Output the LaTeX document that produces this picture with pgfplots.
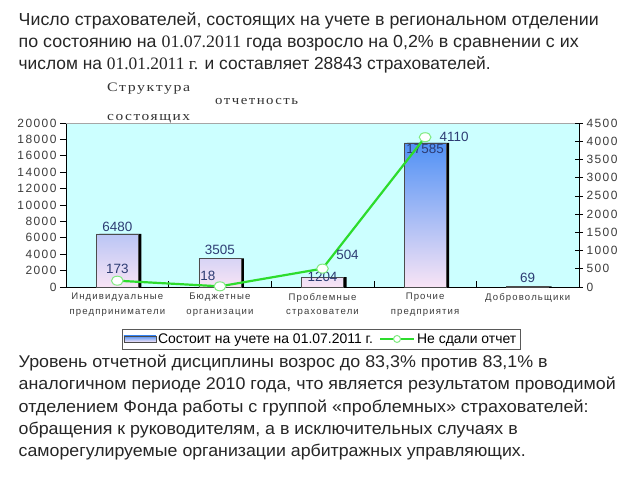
\documentclass[border=0pt]{standalone}
\usepackage{pgfplots}
\pgfplotsset{compat=1.18}
\usepackage{graphicx}
\usepackage{fontspec}
\setmainfont{Liberation Sans}
\newfontfamily\serif{Liberation Serif}
\newfontfamily\spaced[LetterSpace=12]{Liberation Sans}
\newfontfamily\serifspaced[LetterSpace=10]{Liberation Serif}
\definecolor{bgc}{RGB}{204,255,255}
\definecolor{lgreen}{RGB}{45,220,45}
\definecolor{bartop}{RGB}{80,145,245}
\definecolor{barbot}{RGB}{248,228,245}
\definecolor{lab}{RGB}{45,60,115}
\definecolor{tickc}{RGB}{60,60,60}
\newcommand\fit[2]{\resizebox{#1bp}{\height}{#2}}
\pgfplotsset{boxlegend/.style={legend image code/.code={\draw[##1] (0bp,-3bp) rectangle (32bp,3bp);}},
  linelegend/.style={legend image code/.code={\draw[##1,mark repeat=2,mark phase=2] plot coordinates {(0bp,0bp)(17bp,0bp)(34bp,0bp)};}}}
\begin{document}
\begin{tikzpicture}[x=1bp,y=1bp]
\path[use as bounding box, fill=white] (0,0) rectangle (640,480);
\begin{scope}[every node/.style={anchor=base west, inner sep=0, font=\fontsize{17.5}{22}\selectfont, text=black!85}]
\node at (18.5,454) {\fit{580}{Число страхователей, состоящих на учете в региональном отделении}};
\node at (18.5,432) {\fit{560}{по состоянию на {\serif 01.07.2011} года возросло на 0,2\% в сравнении с их}};
\node at (18.5,410) {\fit{472}{числом на {\serif 01.01.2011 г.} и составляет 28843 страхователей.}};
\end{scope}
\begin{scope}[every node/.style={anchor=base west, inner sep=0, font=\fontsize{17}{22}\selectfont, text=black!85}]
\node at (18.5,112) {\fit{529}{Уровень отчетной дисциплины возрос до 83,3\% против 83,1\% в}};
\node at (18.5,90) {\fit{597}{аналогичном периоде 2010 года, что является результатом проводимой}};
\node at (18.5,67) {\fit{570}{отделением Фонда работы с группой «проблемных» страхователей:}};
\node at (18.5,45) {\fit{499}{обращения к руководителям, а в исключительных случаях в}};
\node at (18.5,23) {\fit{507}{саморегулируемые организации арбитражных управляющих.}};
\end{scope}
\begin{scope}[every node/.style={anchor=base west, inner sep=0, font=\serifspaced\fontsize{13}{15}\selectfont, text=black!80}]
\node at (107,388) {\fit{83}{Структура}};
\node at (215,375) {\fit{83}{отчетность}};
\node at (107,359) {\fit{83}{состоящих}};
\end{scope}
\begin{axis}[at={(66bp,193bp)}, anchor=south west, scale only axis, width=513bp, height=164bp,
  xmin=-0.5, xmax=4.5, ymin=0, ymax=20000,
  ytick={0,2000,...,20000}, scaled y ticks=false,
  /pgf/number format/1000 sep={}, /pgf/number format/assume math mode=true,
  xtick={0,1,2,3,4},
  xticklabels={Индивидуальные\\предприниматели, Бюджетные\\организации, Проблемные\\страхователи, Прочие\\предприятия, Добровольщики},
  xticklabel style={font=\spaced\fontsize{9.6}{15}\selectfont, align=center, text=tickc, anchor=north, yshift=-2.5bp},
  yticklabel style={font=\spaced\fontsize{12}{14}\selectfont, text=tickc},
  minor xtick={0.5,1.5,2.5,3.5},
  xtick style={draw=none},
  minor x tick style={draw=black, line width=0.6bp},
  minor tick length=6bp,
  ytick style={draw=black, line width=0.6bp},
  major tick length=6bp,
  axis y line*=left, axis x line*=bottom,
  y axis line style={black, line width=0.8bp, -},
  x axis line style={black, line width=0.8bp, -},
  ytick align=outside,
  axis background/.style={fill=bgc},
  clip=false,
  legend style={at={(0.109,-0.256)}, anchor=north west, legend columns=2, draw=gray!70!black, fill=white,
    font=\fontsize{14}{16}\selectfont, inner xsep=1.5bp, inner ysep=2.2bp, /tikz/every even column/.append style={column sep=4bp}},
  legend cell align=left,
]
\draw[gray!70, line width=0.8bp] (rel axis cs:0,1) -- (rel axis cs:1,1);
\addplot[ybar, bar width=42bp, bar shift=3bp, fill=black, draw=none, forget plot] coordinates {(0,6480)(1,3505)(2,1204)(3,17585)(4,69)};
\addplot[ybar, bar width=42bp, bar shift=0bp, draw=black!70, line width=0.5bp, top color=bartop, bottom color=barbot, boxlegend] coordinates {(0,6480)(1,3505)(2,1204)(3,17585)(4,69)};
\addlegendentry{Состоит на учете на 01.07.2011 г.}
\addlegendimage{linelegend, lgreen, line width=2.2bp, mark=*, mark size=3.5bp, mark options={fill=white, draw=lgreen!60!white, line width=1bp}}
\addlegendentry{Не сдали отчет}
\begin{scope}[every node/.style={font=\fontsize{13.5}{15}\selectfont, text=lab}]
\node[anchor=south, inner sep=2bp] at (axis cs:0,6480) {6480};
\node[anchor=south, inner sep=3bp] at (axis cs:1,3505) {3505};
\node[anchor=center] at (axis cs:2,1204) {1204};
\node[anchor=north, inner sep=1bp] at (axis cs:3,17585) {17585};
\node[anchor=south, inner sep=4bp] at (axis cs:4,69) {69};
\end{scope}
\end{axis}
\begin{axis}[at={(66bp,193bp)}, anchor=south west, scale only axis, width=513bp, height=164bp,
  xmin=-0.5, xmax=4.5, ymin=0, ymax=4500,
  ytick={0,500,...,4500}, scaled y ticks=false,
  /pgf/number format/1000 sep={}, /pgf/number format/assume math mode=true,
  axis y line*=right, axis x line=none,
  y axis line style={black, line width=0.8bp, -},
  yticklabel style={font=\spaced\fontsize{12}{14}\selectfont, text=tickc},
  ytick style={draw=black, line width=0.6bp},
  major tick length=8bp, ytick align=center,
  clip=false,
]
\addplot[lgreen, line width=2.2bp, mark=*, mark size=4.5bp, mark options={fill=white, draw=lgreen!60!white, line width=1bp, xscale=1.3}] coordinates {(0,173)(1,18)(2,504)(3,4110)};
\begin{scope}[every node/.style={font=\fontsize{13.5}{15}\selectfont, text=lab}]
\node at ([yshift=12bp]axis cs:0,173) {173};
\node at ([xshift=-12bp,yshift=10bp]axis cs:1,18) {18};
\node at ([xshift=25bp,yshift=14bp]axis cs:2,504) {504};
\node at ([xshift=29bp]axis cs:3,4110) {4110};
\end{scope}
\end{axis}
\end{tikzpicture}
\end{document}
